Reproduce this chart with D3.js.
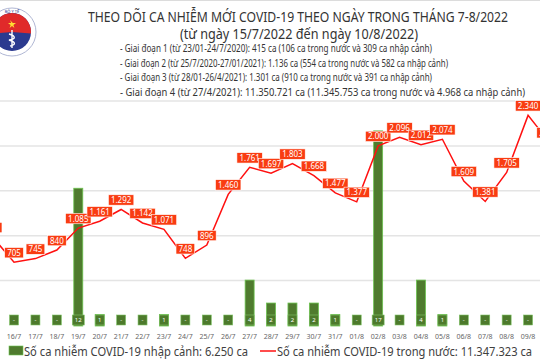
<!DOCTYPE html>
<html><head><meta charset="utf-8">
<script src="https://cdn.jsdelivr.net/npm/d3@7"></script>
<style>
html,body{margin:0;padding:0;background:#fff;overflow:hidden}
svg{display:block;font-family:"Noto Sans","Open Sans",sans-serif}
</style></head>
<body>
<svg id="chart" width="540" height="360"></svg>
<script>
const dates = ["15/7","16/7","17/7","18/7","19/7","20/7","21/7","22/7","23/7","24/7","25/7","26/7","27/7","28/7","29/7","30/7","31/7","01/8","02/8","03/8","04/8","05/8","06/8","07/8","08/8","09/8","10/8"];
const domestic = [985,705,745,840,1085,1161,1292,1142,1071,748,896,1460,1761,1697,1803,1668,1477,1377,2000,2096,2012,2074,1609,1381,1705,2340,2040];
const imported = [0,0,0,0,12,1,0,0,1,0,0,0,4,2,2,2,1,0,17,0,4,1,0,0,0,0,0];
const gridTicks = [500,1000,1500,2000,2500];
const titleText = "THEO DÕI CA NHIỄM MỚI COVID-19 THEO NGÀY TRONG THÁNG 7-8/2022";
const subtitleText = "(từ ngày 15/7/2022 đến ngày 10/8/2022)";
const notes = [
 "- Giai đoạn 1 (từ 23/01-24/7/2020): 415 ca (106 ca trong nước và 309 ca nhập cảnh)",
 "- Giai đoạn 2 (từ 25/7/2020-27/01/2021): 1.136 ca (554 ca trong nước và 582 ca nhập cảnh)",
 "- Giai đoạn 3 (từ 28/01-26/4/2021): 1.301 ca (910 ca trong nước và 391 ca nhập cảnh)",
 "- Giai đoạn 4 (từ 27/4/2021): 11.350.721 ca (11.345.753 ca trong nước và 4.968 ca nhập cảnh)"
];
const legendImported = "Số ca nhiễm COVID-19 nhập cảnh: 6.250 ca";
const legendDomestic = "Số ca nhiễm COVID-19 trong nước: 11.347.323 ca";
const fmt = v => v >= 1000 ? Math.floor(v/1000) + "." + String(v%1000).padStart(3,"0") : String(v);

const svg = d3.select("#chart");
svg.append("rect").attr("width",540).attr("height",360).attr("fill","#fff");
svg.append("line").attr("x1",0).attr("x2",540).attr("y1",0.5).attr("y2",0.5).attr("stroke","#dcdcdc");

const x = d3.scaleBand().domain(dates).range([-18.1, 560.2]).paddingInner(0.58).paddingOuter(0.29);
const cx = d => x(d) + x.bandwidth()/2;
const yL = d3.scaleLinear().domain([0,2500]).range([325.5,101]);
const yB = d3.scaleLinear().domain([0,19.6]).range([326,101]);

// logo
const logo = svg.append("g").attr("transform","translate(12,32)");
logo.append("circle").attr("r",24).attr("fill","#fff").attr("stroke","#9aa3c8").attr("stroke-width",0.8);
logo.append("circle").attr("r",19).attr("fill","#2b3a8f");
logo.append("path").attr("d", d3.arc()({innerRadius:0,outerRadius:19,startAngle:-Math.PI/2*1.05,endAngle:Math.PI/2*1.05})).attr("fill","#e02a2a");
logo.append("path").attr("d","M-4,-9 L-2.8,-6 L-6,-6 L-3.4,-4 L-4.4,-1 L-2,-3 L0.4,-1 L-0.6,-4 L2,-6 L-1.2,-6Z").attr("fill","#ffdd33").attr("transform","translate(2,-3)");
logo.append("path").attr("d","M0,-2 L0,16 M-3,2 C4,4 4,7 -3,8 C4,10 4,13 -2,14").attr("stroke","#fff").attr("stroke-width",1.4).attr("fill","none");
logo.append("text").attr("x",0).attr("y",-19.5).attr("text-anchor","middle").attr("font-size",4).attr("fill","#2b3a8f").text("BỘ Y TẾ");

// title
svg.append("text").attr("x",298).attr("y",21.5).attr("text-anchor","middle").attr("font-size",13.5).attr("fill","#333")
  .attr("textLength",420).attr("lengthAdjust","spacingAndGlyphs").text(titleText);
svg.append("text").attr("x",299).attr("y",39).attr("text-anchor","middle").attr("font-size",13.5).attr("fill","#333")
  .attr("textLength",238).attr("lengthAdjust","spacingAndGlyphs").text(subtitleText);
const noteLens = [312,328,312,405];
svg.selectAll("text.note").data(notes).join("text").attr("class","note")
  .attr("x",120).attr("y",(d,i)=>52+i*14.7).attr("font-size",10.2).attr("fill","#333")
  .attr("textLength",(d,i)=>noteLens[i]).attr("lengthAdjust","spacingAndGlyphs").text(d=>d);

// grid
svg.selectAll("line.grid").data(gridTicks).join("line").attr("class","grid")
  .attr("x1",0).attr("x2",540).attr("y1",d=>yL(d)).attr("y2",d=>yL(d))
  .attr("stroke","#e4e4e4").attr("stroke-width",1.5);

// bars
const barData = dates.map((d,i)=>({d, v: imported[i]}));
svg.selectAll("rect.bar").data(barData.filter(b=>b.v>0)).join("rect").attr("class","bar")
  .attr("x",b=>x(b.d)).attr("width",x.bandwidth())
  .attr("y",b=>yB(b.v)).attr("height",b=>yB(0)-yB(b.v))
  .attr("fill","#4f7b2e").attr("stroke","#6cc24f").attr("stroke-width",0.8);
const bl = svg.selectAll("g.blab").data(barData).join("g").attr("class","blab")
  .attr("transform",b=>`translate(${cx(b.d)},320)`);
bl.append("rect").attr("x",b=>b.v>=10?-6:-4.5).attr("width",b=>b.v>=10?12:9).attr("y",-5).attr("height",10)
  .attr("fill","#4d7a2c").attr("stroke","#7fc466").attr("stroke-width",0.6);
bl.append("text").attr("text-anchor","middle").attr("y",2.2).attr("font-size",6).attr("fill","#fff")
  .text(b=>b.v>0?b.v:"-");

// line
const lineGen = d3.line().x((v,i)=>cx(dates[i])).y(v=>yL(v));
svg.append("path").datum(domestic).attr("d",lineGen).attr("fill","none").attr("stroke","#ff1010").attr("stroke-width",1.5);

// line labels
const ll = svg.selectAll("g.llab").data(domestic.map((v,i)=>({v,d:dates[i]}))).join("g").attr("class","llab")
  .attr("transform",p=>`translate(${cx(p.d)},${yL(p.v)-9.5})`);
ll.append("rect").attr("fill","#f93c12").attr("stroke","#fff").attr("stroke-width",0.6);
ll.append("text").attr("text-anchor","middle").attr("y",3).attr("font-size",8).attr("fill","#fff").text(p=>fmt(p.v));
ll.each(function(){
  const g = d3.select(this);
  const w = g.select("text").node().getComputedTextLength()+5;
  g.select("rect").attr("x",-w/2).attr("width",w).attr("y",-5.2).attr("height",10.4);
});

// category labels
svg.selectAll("text.cat").data(dates).join("text").attr("class","cat")
  .attr("x",d=>cx(d)).attr("y",339).attr("text-anchor","middle").attr("font-size",7).attr("fill","#666").text(d=>d);

// legend
svg.append("rect").attr("x",9).attr("y",346).attr("width",14).attr("height",9).attr("fill","#4f7b2e").attr("stroke","#6cc24f").attr("stroke-width",0.6);
svg.append("text").attr("x",24).attr("y",356).attr("font-size",13).attr("fill","#404040")
  .attr("textLength",224).attr("lengthAdjust","spacingAndGlyphs").text(legendImported);
svg.append("line").attr("x1",260).attr("x2",276).attr("y1",351).attr("y2",351).attr("stroke","#ff1010").attr("stroke-width",1.5);
svg.append("text").attr("x",277).attr("y",356).attr("font-size",13).attr("fill","#404040")
  .attr("textLength",255).attr("lengthAdjust","spacingAndGlyphs").text(legendDomestic);
</script>
</body></html>
